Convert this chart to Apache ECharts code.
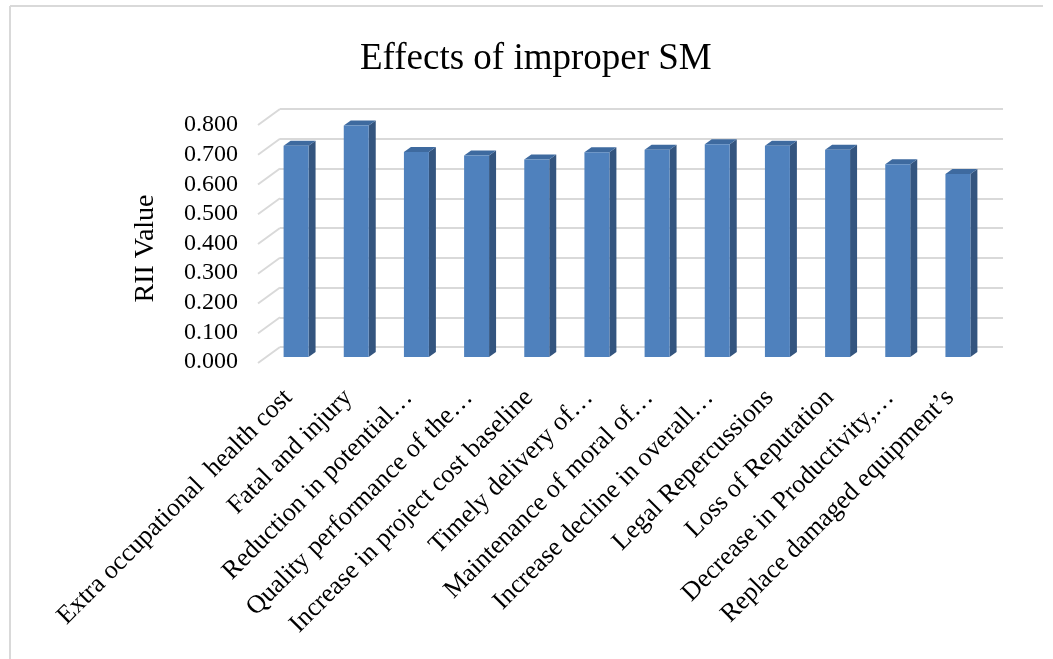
<!DOCTYPE html>
<html>
<head>
<meta charset="utf-8">
<script src="https://cdn.jsdelivr.net/npm/echarts@6/dist/echarts.min.js"></script>
<style>html,body{margin:0;padding:0;background:#fff;}#c{width:1053px;height:659px;}</style>
</head>
<body>
<div id="c"></div>
<script>
const categories = [
  "Extra occupational  health cost",
  "Fatal and injury",
  "Reduction in potential\u2026",
  "Quality performance of the\u2026",
  "Increase in project cost baseline",
  "Timely delivery of\u2026",
  "Maintenance of moral of\u2026",
  "Increase decline in overall\u2026",
  "Legal Repercussions",
  "Loss of Reputation",
  "Decrease in Productivity,\u2026",
  "Replace damaged equipment\u2019s"
];
const values = [0.710, 0.778, 0.689, 0.677, 0.664, 0.688, 0.697, 0.715, 0.710, 0.697, 0.648, 0.615];
const yTicks = [0, 0.1, 0.2, 0.3, 0.4, 0.5, 0.6, 0.7, 0.8];

const FONT = "Liberation Serif";
const chart = echarts.init(document.getElementById('c'));

const option = {
  backgroundColor: '#fff',
  animation: false,
  title: {
    text: 'Effects of improper SM',
    left: 355,
    top: 36,
    textStyle: { fontFamily: FONT, fontSize: 37, fontWeight: 'normal', color: '#000' }
  },
  graphic: [
    { type: 'line', shape: { x1: 10, y1: 6, x2: 1043, y2: 6 }, style: { stroke: '#d9d9d9', lineWidth: 2 } },
    { type: 'line', shape: { x1: 10, y1: 6, x2: 10, y2: 659 }, style: { stroke: '#d9d9d9', lineWidth: 2 } }
  ],
  grid: [
    { left: 266, right: 65, top: 119, bottom: 302 },
    { left: 280, right: 50, top: 109, bottom: 312 },
    { left: 257, right: 50, top: 125, bottom: 297 }
  ],
  xAxis: [
    {
      gridIndex: 0, type: 'category', data: categories,
      axisLine: { show: false }, axisTick: { show: false },
      axisLabel: { rotate: 45, interval: 0, margin: 29, padding: [0, 11, 0, 0], fontFamily: FONT, fontSize: 26, color: '#000' }
    },
    { gridIndex: 1, type: 'value', min: 0, max: 1, show: false },
    { gridIndex: 2, type: 'value', min: 0, max: 1, show: false }
  ],
  yAxis: [
    { gridIndex: 0, type: 'value', min: 0, max: 0.8, interval: 0.1, show: false },
    {
      gridIndex: 1, type: 'value', min: 0, max: 0.8, interval: 0.1,
      axisLine: { show: false }, axisTick: { show: false }, axisLabel: { show: false },
      splitLine: { show: true, lineStyle: { color: '#d9d9d9', width: 2 } }
    },
    {
      gridIndex: 2, type: 'value', min: 0, max: 0.8, interval: 0.1,
      axisLine: { show: false }, axisTick: { show: false }, splitLine: { show: false },
      axisLabel: { margin: 19, fontFamily: FONT, fontSize: 24, color: '#000', formatter: v => v.toFixed(3) },
      name: 'RII Value', nameLocation: 'middle', nameRotate: 90, nameGap: 97,
      nameTextStyle: { fontFamily: FONT, fontSize: 28, color: '#000', padding: [0, 10, 0, 0] }
    }
  ],
  series: [
    {
      type: 'custom', xAxisIndex: 1, yAxisIndex: 1,
      data: yTicks.map(v => [0, v]),
      renderItem: function (params, api) {
        const p = api.coord([0, api.value(1)]);
        return {
          type: 'line',
          shape: { x1: p[0], y1: p[1], x2: p[0] - 22, y2: p[1] + 16 },
          style: { stroke: '#d9d9d9', lineWidth: 2 }
        };
      }
    },
    {
      type: 'custom', xAxisIndex: 0, yAxisIndex: 0,
      data: values.map((v, i) => [i, v]),
      renderItem: function (params, api) {
        const top = api.coord([api.value(0), api.value(1)]);
        const base = api.coord([api.value(0), 0]);
        const w = api.size([1, 0])[0] * 0.415;
        const x1 = top[0] - w / 2, x2 = top[0] + w / 2;
        const yt = top[1], yb = base[1];
        const d = 7, dy = 5;
        return {
          type: 'group',
          children: [
            { type: 'polygon', shape: { points: [[x2, yt], [x2 + d, yt - dy], [x2 + d, yb - dy], [x2, yb]] },
              style: { fill: '#34557f' } },
            { type: 'polygon', shape: { points: [[x1, yt], [x2, yt], [x2 + d, yt - dy], [x1 + d, yt - dy]] },
              style: { fill: '#3e6a9f' } },
            { type: 'rect', shape: { x: x1, y: yt, width: w, height: yb - yt },
              style: { fill: '#4f81bd' } }
          ]
        };
      }
    }
  ]
};
chart.setOption(option);
</script>
</body>
</html>
